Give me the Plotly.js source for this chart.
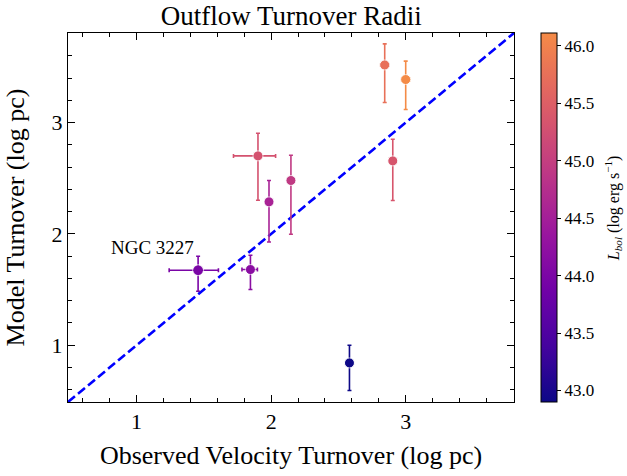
<!DOCTYPE html>
<html>
<head>
<meta charset="utf-8">
<script src="https://cdn.plot.ly/plotly-3.0.1.min.js"></script>
<style>
  html, body { margin: 0; padding: 0; background: #ffffff; }
  #chart { width: 627px; height: 476px; }
</style>
</head>
<body>
<div id="chart"></div>
<script>
// Observed velocity turnover radius (log pc) with asymmetric errors
const obsVel      = [1.457, 1.846, 1.902, 1.984, 2.147, 2.582, 2.844, 3.000, 2.904];
const obsVelErrLo = [0.215, 0.063, 0.182, 0.0,   0.0,   0.0,   0.03,  0.03,  0.0];
const obsVelErrHi = [0.151, 0.052, 0.131, 0.0,   0.0,   0.0,   0.03,  0.03,  0.0];

// Model turnover radius (log pc) with asymmetric errors
const modelTurn      = [1.674, 1.680, 2.701, 2.288, 2.480, 0.841, 3.518, 3.387, 2.656];
const modelTurnErrHi = [0.126, 0.129, 0.204, 0.192, 0.227, 0.159, 0.189, 0.165, 0.195];
const modelTurnErrLo = [0.189, 0.180, 0.398, 0.360, 0.483, 0.248, 0.337, 0.269, 0.356];

// Bolometric luminosity (log erg/s) used for colouring
const lbol = [43.99, 44.17, 45.30, 44.56, 44.93, 42.90, 45.75, 46.11, 45.35];

const labelText = "NGC 3227";
const labelX = 1.44;
const labelY = 1.77;

const colorbarTitle = '<i>L</i><sub><i>bol</i></sub> (log erg s<sup>\u22121</sup>)';

const axisRange = [0.49, 3.805];

// Plasma colormap, cut off before the yellow end
const plasmaStops = ['#0d0887', '#46039f', '#7201a8', '#9c179e', '#bd3786',
                     '#d8576b', '#ed7953', '#fb9f3a', '#fdca26', '#f0f921'];
const plasmaTop = 0.72;

function hexToRgb(h) {
  return [parseInt(h.slice(1, 3), 16), parseInt(h.slice(3, 5), 16), parseInt(h.slice(5, 7), 16)];
}
function plasma(t) {
  t = Math.max(0, Math.min(1, t));
  const n = plasmaStops.length - 1;
  const pos = t * n;
  const i = Math.min(Math.floor(pos), n - 1);
  const f = pos - i;
  const a = hexToRgb(plasmaStops[i]), b = hexToRgb(plasmaStops[i + 1]);
  const c = a.map((v, k) => Math.round(v + (b[k] - v) * f));
  return 'rgb(' + c.join(',') + ')';
}
const colorscale = [];
for (let i = 0; i <= 20; i++) {
  colorscale.push([i / 20, plasma(plasmaTop * i / 20)]);
}
const cmin = Math.min(...lbol);
const cmax = Math.max(...lbol);
function lumColor(v) {
  return plasma(plasmaTop * (v - cmin) / (cmax - cmin));
}

const serif = 'Liberation Serif, Times New Roman, serif';
const traces = [];

// one-to-one relation
traces.push({
  x: axisRange, y: axisRange,
  mode: 'lines', type: 'scatter',
  line: { color: '#0000ff', width: 2.6, dash: '9px,4px' },
  hoverinfo: 'skip', showlegend: false
});

// error bars, each in its point's colour
for (let i = 0; i < obsVel.length; i++) {
  const col = lumColor(lbol[i]);
  traces.push({
    x: [obsVel[i]], y: [modelTurn[i]],
    mode: 'markers', type: 'scatter',
    marker: { size: 9, color: col },
    error_x: { type: 'data', symmetric: false, array: [obsVelErrHi[i]], arrayminus: [obsVelErrLo[i]],
               color: col, thickness: 1.6, width: 2, visible: obsVelErrHi[i] > 0 },
    error_y: { type: 'data', symmetric: false, array: [modelTurnErrHi[i]], arrayminus: [modelTurnErrLo[i]],
               color: col, thickness: 1.6, width: 2 },
    showlegend: false, hoverinfo: 'skip'
  });
}

// markers coloured by luminosity, with colour bar
traces.push({
  x: obsVel, y: modelTurn,
  mode: 'markers', type: 'scatter',
  marker: {
    size: obsVel.map((v, i) => i === 0 ? 11 : 10),
    color: lbol, colorscale: colorscale, cmin: cmin, cmax: cmax,
    colorbar: {
      x: 1.0605, xanchor: 'left', xref: 'paper', xpad: 0, ypad: 0,
      y: 0.5, yanchor: 'middle', len: 1, lenmode: 'fraction',
      thickness: 16, thicknessmode: 'pixels',
      outlinewidth: 1, outlinecolor: '#000000',
      tick0: 43, dtick: 0.5, tickformat: '.1f',
      ticks: 'outside', ticklen: 4, tickcolor: '#000000',
      tickfont: { family: serif, size: 17, color: '#000000' }
    }
  },
  showlegend: false
});

const axisCommon = {
  range: axisRange,
  showgrid: false, zeroline: false,
  showline: true, linecolor: '#000000', linewidth: 1,
  mirror: 'allticks',
  ticks: 'inside', ticklen: 7, tickwidth: 1, tickcolor: '#000000',
  tick0: 0, dtick: 1,
  minor: { ticks: 'inside', ticklen: 4, tickwidth: 1, tickcolor: '#000000', dtick: 0.2, tick0: 0, showgrid: false },
  tickfont: { family: serif, size: 22, color: '#000000' }
};

const layout = {
  width: 627, height: 476,
  margin: { l: 68, r: 113, t: 33, b: 74, autoexpand: false },
  paper_bgcolor: '#ffffff', plot_bgcolor: '#ffffff',
  showlegend: false,
  title: { text: 'Outflow Turnover Radii', x: 0.4645, xanchor: 'center', y: 0.968, yanchor: 'middle',
           font: { family: serif, size: 27, color: '#000000' } },
  xaxis: Object.assign({}, axisCommon, {
    title: { text: 'Observed Velocity Turnover (log pc)', standoff: 12,
             font: { family: serif, size: 26, color: '#000000' } }
  }),
  yaxis: Object.assign({}, axisCommon, {
    title: { text: 'Model Turnover (log pc)', standoff: 19,
             font: { family: serif, size: 26, color: '#000000' } }
  }),
  annotations: [{
    x: labelX, y: labelY, xref: 'x', yref: 'y',
    text: labelText, showarrow: false,
    xanchor: 'right', yanchor: 'bottom',
    font: { family: serif, size: 19, color: '#000000' }
  }, {
    x: 1.2225, y: 0.526, xref: 'paper', yref: 'paper',
    text: colorbarTitle, showarrow: false, textangle: -90,
    xanchor: 'center', yanchor: 'middle',
    font: { family: serif, size: 16, color: '#000000' }
  }]
};

Plotly.newPlot('chart', traces, layout, { staticPlot: true, displayModeBar: false });
</script>
</body>
</html>
